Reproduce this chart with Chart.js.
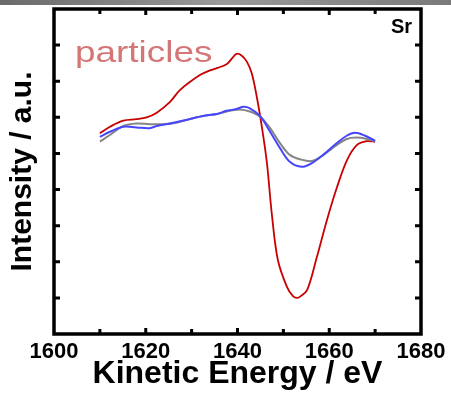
<!DOCTYPE html>
<html>
<head>
<meta charset="utf-8">
<script src="https://cdn.jsdelivr.net/npm/chart.js@4.4.1/dist/chart.umd.min.js"></script>
<style>
  body { margin: 0; background: #fff; }
  canvas { display: block; }
</style>
</head>
<body>
<canvas id="chartSr" width="451" height="398"></canvas>
<script>
// values (intensity in arbitrary units, 0..9 = frame)
const xTicks = [1600, 1620, 1640, 1660, 1680];

const redEnergy = [1610.0, 1612.2, 1615.1, 1618.0, 1620.2, 1622.4, 1625.3, 1627.5, 1631.8, 1634.0,
    1635.7, 1637.7, 1639.0, 1639.8, 1640.8, 1642.0, 1643.1, 1644.2, 1645.3, 1646.4,
    1647.5, 1648.8, 1650.8, 1652.1, 1653.0, 1653.8, 1655.2, 1657.3, 1659.5, 1661.7,
    1663.9, 1666.0, 1668.2, 1670.0];
const redIntensity = [5.56, 5.74, 5.91, 5.95, 6.00, 6.13, 6.43, 6.76, 7.17, 7.30,
    7.37, 7.48, 7.66, 7.76, 7.72, 7.55, 7.22, 6.57, 5.74, 4.75,
    3.30, 2.05, 1.30, 1.05, 1.00, 1.05, 1.22, 2.13, 3.16, 4.07,
    4.82, 5.23, 5.34, 5.32];

const blueEnergy = [1610.0, 1612.2, 1615.1, 1618.0, 1620.9, 1622.4, 1625.3, 1628.2, 1631.1, 1633.3,
    1635.5, 1637.6, 1639.8, 1641.3, 1642.7, 1644.9, 1647.1, 1649.3, 1651.4, 1654.0,
    1656.2, 1658.7, 1661.6, 1663.8, 1665.6, 1667.8, 1670.0];
const blueIntensity = [5.46, 5.60, 5.74, 5.72, 5.70, 5.76, 5.83, 5.91, 6.00, 6.06,
    6.09, 6.18, 6.23, 6.29, 6.25, 6.04, 5.60, 5.14, 4.77, 4.63,
    4.73, 4.96, 5.28, 5.49, 5.57, 5.49, 5.35];

const grayEnergy = [1610.0, 1612.2, 1615.1, 1618.0, 1620.9, 1623.8, 1626.7, 1629.6, 1632.5, 1635.5,
    1638.4, 1640.5, 1642.7, 1644.9, 1647.1, 1649.3, 1651.4, 1653.6, 1656.2, 1658.7,
    1661.6, 1663.8, 1665.9, 1668.2, 1670.0];
const grayIntensity = [5.33, 5.51, 5.76, 5.83, 5.81, 5.81, 5.85, 5.95, 6.04, 6.09,
    6.18, 6.22, 6.16, 6.02, 5.70, 5.28, 4.96, 4.84, 4.79, 4.96,
    5.23, 5.40, 5.44, 5.40, 5.33];

const FONT = '"Liberation Sans", Arial, sans-serif';

function pts(xs, ys) {
    return xs.map((x, i) => ({x: x, y: ys[i]}));
}

// frame, inward ticks, annotations and the grey strip at the top
const framePlugin = {
    id: 'frame',
    beforeDraw(chart) {
        const ctx = chart.ctx;
        const g = ctx.createLinearGradient(0, 0, 451, 0);
        g.addColorStop(0, '#6a6a6a');
        g.addColorStop(0.5, '#9a9a9a');
        g.addColorStop(1, '#7a7a7a');
        ctx.save();
        ctx.fillStyle = g;
        ctx.fillRect(0, 0, chart.width, 5);
        ctx.restore();
    },
    afterDatasetsDraw(chart) {
        const {ctx, chartArea: a, scales} = chart;
        ctx.save();
        ctx.strokeStyle = '#000';
        ctx.lineWidth = 3;
        for (let v = 1610; v <= 1670; v += 10) {
            const px = scales.x.getPixelForValue(v);
            const len = v % 20 === 0 ? 6 : 5;
            ctx.beginPath();
            ctx.moveTo(px, a.bottom); ctx.lineTo(px, a.bottom - len);
            ctx.moveTo(px, a.top); ctx.lineTo(px, a.top + len);
            ctx.stroke();
        }
        for (let v = 1; v <= 8; v++) {
            const py = scales.y.getPixelForValue(v);
            ctx.beginPath();
            ctx.moveTo(a.left, py); ctx.lineTo(a.left + 6, py);
            ctx.moveTo(a.right, py); ctx.lineTo(a.right - 6, py);
            ctx.stroke();
        }
        ctx.lineWidth = 3.5;
        ctx.strokeRect(a.left, a.top, a.right - a.left, a.bottom - a.top);

        ctx.fillStyle = '#000';
        ctx.font = 'bold 20px ' + FONT;
        ctx.textAlign = 'right';
        ctx.textBaseline = 'alphabetic';
        ctx.fillText('Sr', 412, 33);

        ctx.translate(75, 62);
        ctx.scale(1.23, 1);
        ctx.fillStyle = 'rgb(212,118,118)';
        ctx.font = '30px ' + FONT;
        ctx.textAlign = 'left';
        ctx.fillText('particles', 0, 0);
        ctx.restore();
    }
};

var srChart = new Chart(document.getElementById('chartSr'), {
    type: 'line',
    data: {
        datasets: [
            { label: 'blue', data: pts(blueEnergy, blueIntensity), borderColor: '#4646ff', borderWidth: 2 },
            { label: 'gray', data: pts(grayEnergy, grayIntensity), borderColor: '#858585', borderWidth: 2 },
            { label: 'particles', data: pts(redEnergy, redIntensity), borderColor: '#c80000', borderWidth: 1.8 }
        ]
    },
    options: {
        responsive: false,
        animation: false,
        layout: { padding: { top: 9, right: 30, left: 0, bottom: 0 } },
        elements: {
            point: { radius: 0 },
            line: { fill: false, tension: 0.35 }
        },
        plugins: { legend: { display: false }, tooltip: { enabled: false } },
        scales: {
            x: {
                type: 'linear',
                min: 1600,
                max: 1680,
                afterBuildTicks: (s) => { s.ticks = xTicks.map(v => ({value: v})); },
                afterFit: (s) => { s.height = 64; },
                grid: { display: false, drawTicks: false },
                border: { display: false },
                ticks: {
                    autoSkip: false, maxRotation: 0, padding: 5, color: '#000',
                    callback: (v) => String(v),
                    font: { family: FONT, size: 22, weight: 'bold' }
                },
                title: {
                    display: true, text: 'Kinetic Energy / eV', color: '#000',
                    padding: { top: 0, bottom: 5 },
                    font: { family: FONT, size: 32, weight: 'bold' }
                }
            },
            y: {
                min: 0,
                max: 9,
                afterFit: (s) => { s.width = 54; },
                grid: { display: false, drawTicks: false },
                border: { display: false },
                ticks: { display: false },
                title: {
                    display: true, text: 'Intensity / a.u.', color: '#000',
                    padding: { top: 5, bottom: 0 },
                    font: { family: FONT, size: 30, weight: 'bold' }
                }
            }
        }
    },
    plugins: [framePlugin]
});
</script>
</body>
</html>
